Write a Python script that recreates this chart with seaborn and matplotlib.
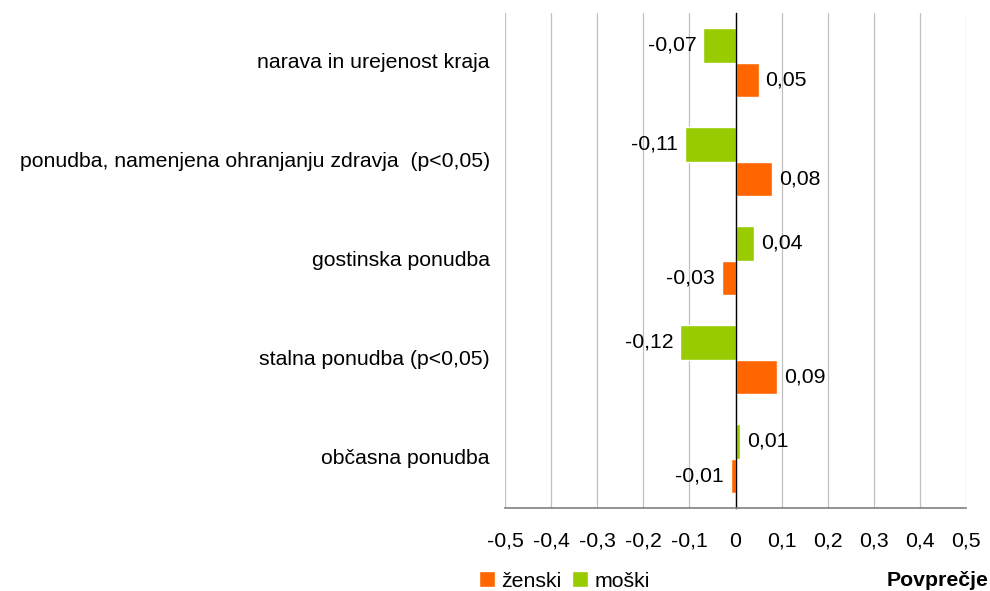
import matplotlib
matplotlib.use("Agg")
import matplotlib.pyplot as plt
import seaborn as sns
import pandas as pd
from matplotlib.patches import Patch
from matplotlib.transforms import blended_transform_factory

categories = ["narava in urejenost kraja",
              "ponudba, namenjena ohranjanju zdravja  (p<0,05)",
              "gostinska ponudba",
              "stalna ponudba (p<0,05)",
              "občasna ponudba"]
zenski = [0.05, 0.08, -0.03, 0.09, -0.01]
moski = [-0.07, -0.11, 0.04, -0.12, 0.01]
x_ticks = [-0.5, -0.4, -0.3, -0.2, -0.1, 0, 0.1, 0.2, 0.3, 0.4, 0.5]
x_ticklabels = ["-0,5", "-0,4", "-0,3", "-0,2", "-0,1", "0", "0,1", "0,2", "0,3", "0,4", "0,5"]

sns.set_style("white")
plt.rcParams["font.family"] = ["Liberation Sans", "DejaVu Sans"]
plt.rcParams["text.color"] = "black"
plt.rcParams["xtick.color"] = "black"
plt.rcParams["ytick.color"] = "black"
FS = 15.3

df = pd.DataFrame({
    "kat": categories * 2,
    "val": moski + zenski,
    "spol": ["moški"] * 5 + ["ženski"] * 5,
})
colors = {"moški": "#99CC00", "ženski": "#FF6600"}

fig = plt.figure(figsize=(9.9, 5.91), dpi=100)
ax = fig.add_axes([505 / 990, 1 - 508 / 591, 461 / 990, 495 / 591])
sns.barplot(data=df, x="val", y="kat", hue="spol", hue_order=["moški", "ženski"],
            order=categories, palette=colors, width=0.7, orient="h",
            saturation=1, legend=False, ax=ax, errorbar=None)

ax.set_xlim(-0.5, 0.5)
ax.set_ylim(4.5, -0.5)
ax.set_xticks(x_ticks)
ax.set_xticklabels(x_ticklabels, fontsize=FS)
ax.set_xlabel("")
ax.set_ylabel("")
ax.grid(axis="x", color="#c0c0c0", linewidth=0.9)
ax.grid(axis="y", visible=False)
ax.set_axisbelow(True)
for s in ["top", "right"]:
    ax.spines[s].set_visible(False)
ax.spines["bottom"].set_color("#808080")
ax.spines["bottom"].set_linewidth(1.2)
ax.spines["left"].set_position(("data", 0))
ax.spines["left"].set_color("black")
ax.spines["left"].set_linewidth(1.0)
ax.tick_params(axis="x", direction="out", length=4, color="#808080", labelcolor="black", pad=13)
ax.set_yticks([0, 1, 2, 3, 4])
ax.set_yticklabels([])
ax.tick_params(axis="y", which="major", length=0)
ax.set_yticks([-0.5, 0.5, 1.5, 2.5, 3.5, 4.5], minor=True)
ax.tick_params(axis="y", which="minor", direction="out", length=4, color="black")

trans = blended_transform_factory(ax.transAxes, ax.transData)
for i, c in enumerate(categories):
    ax.text(-0.033, i, c, transform=trans, ha="right", va="center", fontsize=FS, color="black")

for cont in ax.containers:
    labels = [("%.2f" % v).replace(".", ",") for v in cont.datavalues]
    ax.bar_label(cont, labels=labels, padding=5, fontsize=FS, color="black")

handles = [Patch(facecolor="#FF6600", label="ženski"), Patch(facecolor="#99CC00", label="moški")]
fig.legend(handles=handles, loc="center left", bbox_to_anchor=(479 / 990, 1 - 581 / 591), ncol=2,
           frameon=False, fontsize=FS, handlelength=0.75, handleheight=0.75,
           handletextpad=0.3, columnspacing=0.5, borderpad=0, borderaxespad=0,
           labelcolor="black")
fig.text(988 / 990, 1 - 580 / 591, "Povprečje", ha="right", va="center",
         fontsize=FS, fontweight="bold", color="black")

fig.savefig("out.png", dpi=100)
